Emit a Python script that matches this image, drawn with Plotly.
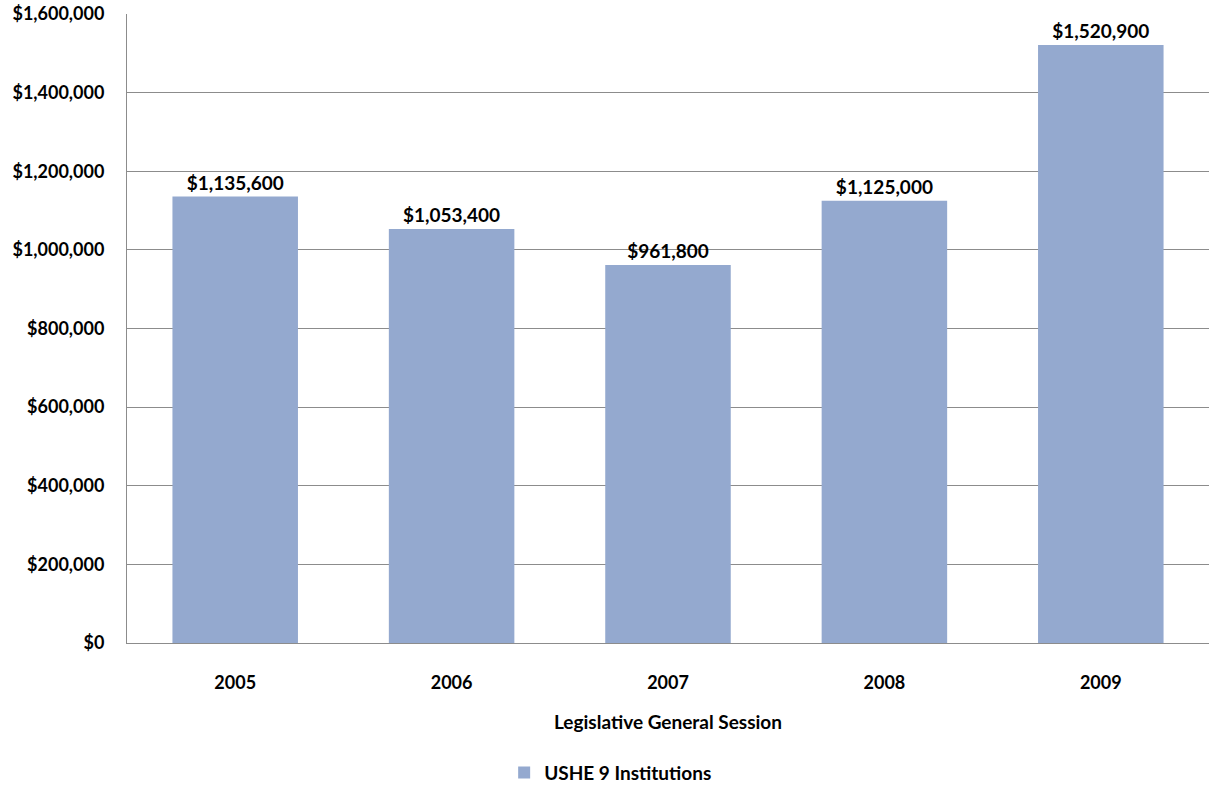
import plotly.graph_objects as go

years = ["2005", "2006", "2007", "2008", "2009"]
amounts = [1135600, 1053400, 961800, 1125000, 1520900]
series_name = "USHE 9 Institutions"
y_ticks = [0, 200000, 400000, 600000, 800000, 1000000, 1200000, 1400000, 1600000]
y_tick_text = ["$" + format(v, ",") for v in y_ticks]

FONT = "Lato"
BAR = "#94a9cf"
GRID = "#8c8c8c"

fig = go.Figure()
fig.add_trace(go.Bar(
    x=years,
    y=amounts,
    name=series_name,
    marker=dict(color=BAR, line=dict(width=0)),
    text=["$" + format(v, ",") for v in amounts],
    textposition="outside",
    textfont=dict(family=FONT, size=19, color="black", weight="bold"),
    cliponaxis=False,
    showlegend=True,
))

fig.update_layout(
    width=1209,
    height=786,
    margin=dict(l=127, r=0, t=14, b=143, autoexpand=False),
    plot_bgcolor="white",
    paper_bgcolor="white",
    bargap=0.42,
    font=dict(family=FONT, size=17, color="black", weight="bold"),
    xaxis=dict(
        showline=True,
        linecolor=GRID,
        linewidth=1,
        ticks="",
        ticklabelstandoff=23,
        tickfont=dict(family=FONT, size=18, color="black", weight="bold"),
        title=dict(text="Legislative General Session",
                   font=dict(family=FONT, size=19, color="black", weight="bold"),
                   standoff=24),
    ),
    yaxis=dict(
        range=[0, 1600000],
        tickvals=y_ticks,
        ticktext=y_tick_text,
        showgrid=True,
        gridcolor=GRID,
        gridwidth=1,
        showline=True,
        linecolor=GRID,
        linewidth=1,
        zeroline=False,
        ticks="",
        ticklabelstandoff=18,
        tickfont=dict(family=FONT, size=18, color="black", weight="bold"),
    ),
    legend=dict(
        orientation="h",
        x=0.447,
        xanchor="center",
        yref="container",
        y=0.017,
        yanchor="middle",
        font=dict(family=FONT, size=19, color="black", weight="bold"),
        itemwidth=30,
    ),
)

fig.write_html("out.html")
